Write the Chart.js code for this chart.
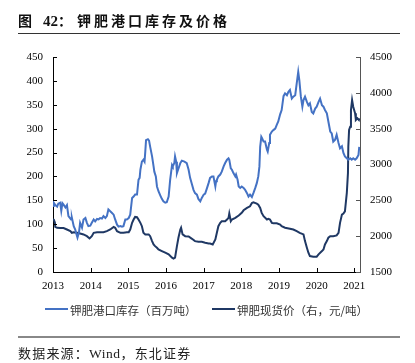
<!DOCTYPE html>
<html><head><meta charset="utf-8">
<script src="https://cdn.jsdelivr.net/npm/chart.js@4.4.0/dist/chart.umd.min.js"></script>
<style>
html,body{margin:0;padding:0;background:#fff;}
#wrap{position:relative;width:415px;height:363px;overflow:hidden;background:#fff;}
canvas{position:absolute;left:0;top:0;}
.t{position:absolute;white-space:nowrap;}
</style></head><body>
<div id="wrap">
<canvas id="c" width="415" height="363"></canvas>
<div class="t" style="left:18px;top:10px;line-height:20px;font:bold 14px 'Noto Sans CJK SC';color:#111;">图</div>
<div class="t" style="left:43px;top:10px;line-height:20px;font:bold 14px 'Noto Sans CJK SC';color:#111;"><span style="font:bold 15px 'Liberation Serif'">42</span>：</div>
<div class="t" style="left:77px;top:10px;line-height:20px;font:bold 14px 'Noto Sans CJK SC';letter-spacing:3px;color:#111;">钾肥港口库存及价格</div>
<div style="position:absolute;left:18px;top:32.5px;width:382px;height:1.5px;background:#333"></div>
<div style="position:absolute;left:45px;top:308px;width:23px;height:2px;background:#4472C4"></div>
<div class="t" style="left:70px;top:302px;line-height:14px;font:11.5px 'Noto Sans CJK SC';color:#333;">钾肥港口库存（百万吨）</div>
<div style="position:absolute;left:212px;top:308px;width:23px;height:2px;background:#1F3864"></div>
<div class="t" style="left:237px;top:302px;line-height:14px;font:11.5px 'Noto Sans CJK SC';color:#333;">钾肥现货价（右，元/吨）</div>
<div style="position:absolute;left:18px;top:336px;width:382px;height:1.5px;background:#888"></div>
<div class="t" style="left:18px;top:343px;line-height:17px;font:13px 'Noto Sans CJK SC';letter-spacing:1.2px;color:#222;">数据来源：<span style="font:13.5px 'Liberation Serif';letter-spacing:0.5px">Wind</span>，东北证券</div>
</div>
<script>
const xTickYears = [2013,2014,2015,2016,2017,2018,2019,2020,2021];
const leftTicks = [0,50,100,150,200,250,300,350,400,450];
const rightTicks = [1500,2000,2500,3000,3500,4000,4500];

const stockYears = [2013.00,2013.02,2013.06,2013.11,2013.14,2013.19,2013.22,2013.25,2013.28,2013.33,2013.37,2013.41,2013.48,2013.50,2013.55,2013.59,2013.62,2013.65,2013.69,2013.72,2013.77,2013.81,2013.86,2013.90,2013.94,2013.99,2014.03,2014.08,2014.12,2014.17,2014.21,2014.25,2014.30,2014.34,2014.39,2014.43,2014.47,2014.52,2014.56,2014.61,2014.65,2014.70,2014.74,2014.79,2014.83,2014.87,2014.92,2014.96,2015.01,2015.05,2015.10,2015.14,2015.18,2015.23,2015.27,2015.30,2015.32,2015.36,2015.40,2015.43,2015.45,2015.47,2015.52,2015.55,2015.58,2015.63,2015.67,2015.69,2015.73,2015.76,2015.80,2015.85,2015.89,2015.93,2015.98,2016.02,2016.07,2016.11,2016.16,2016.18,2016.22,2016.24,2016.27,2016.29,2016.32,2016.38,2016.42,2016.49,2016.55,2016.60,2016.64,2016.69,2016.73,2016.77,2016.82,2016.86,2016.91,2016.95,2017.00,2017.04,2017.09,2017.13,2017.17,2017.22,2017.26,2017.31,2017.33,2017.35,2017.39,2017.44,2017.48,2017.53,2017.57,2017.62,2017.66,2017.68,2017.72,2017.75,2017.79,2017.84,2017.86,2017.90,2017.93,2017.97,2018.01,2018.06,2018.10,2018.15,2018.19,2018.23,2018.28,2018.32,2018.37,2018.41,2018.45,2018.48,2018.50,2018.53,2018.55,2018.59,2018.63,2018.68,2018.70,2018.74,2018.76,2018.81,2018.85,2018.90,2018.94,2018.98,2019.03,2019.07,2019.12,2019.16,2019.21,2019.25,2019.29,2019.34,2019.38,2019.43,2019.47,2019.51,2019.54,2019.58,2019.62,2019.65,2019.69,2019.74,2019.78,2019.82,2019.87,2019.91,2019.96,2020.00,2020.05,2020.09,2020.14,2020.18,2020.22,2020.27,2020.31,2020.36,2020.40,2020.44,2020.49,2020.53,2020.58,2020.62,2020.67,2020.71,2020.75,2020.80,2020.84,2020.89,2020.93,2020.97,2021.02,2021.06,2021.11,2021.13];
const stockValues = [138,145,140,137,143,145,128,144,141,135,140,117,110,114,96,89,80,72,83,103,93,110,113,103,96,97,103,110,106,111,110,113,112,117,113,117,131,127,124,120,110,99,95,96,95,96,110,110,113,120,155,158,162,162,193,197,214,231,235,231,252,276,278,275,262,242,221,210,200,179,169,160,153,148,145,146,158,193,224,221,228,242,231,207,214,228,233,231,228,214,197,183,172,165,162,153,148,155,162,164,176,186,197,200,200,179,190,193,200,204,210,221,228,235,238,235,217,214,207,200,204,193,179,176,179,176,172,165,158,162,157,165,176,186,200,221,262,283,280,273,273,256,252,270,287,294,297,300,308,315,330,339,368,374,370,377,381,363,367,370,395,419,401,367,346,360,367,356,349,353,335,332,342,346,356,363,349,346,339,332,315,294,290,273,277,287,270,259,263,249,242,238,235,238,235,238,235,238,245,262];

const priceYears = [2013.00,2013.02,2013.05,2013.06,2013.11,2013.19,2013.28,2013.37,2013.46,2013.50,2013.55,2013.64,2013.72,2013.81,2013.90,2013.97,2014.03,2014.08,2014.17,2014.25,2014.34,2014.43,2014.52,2014.61,2014.65,2014.70,2014.79,2014.87,2014.96,2015.01,2015.05,2015.10,2015.14,2015.18,2015.23,2015.27,2015.32,2015.36,2015.40,2015.45,2015.54,2015.58,2015.63,2015.67,2015.71,2015.76,2015.80,2015.89,2015.98,2016.07,2016.16,2016.20,2016.24,2016.29,2016.33,2016.38,2016.40,2016.44,2016.51,2016.60,2016.69,2016.77,2016.86,2016.95,2017.04,2017.13,2017.17,2017.24,2017.31,2017.35,2017.39,2017.44,2017.48,2017.57,2017.62,2017.66,2017.68,2017.72,2017.75,2017.84,2017.93,2018.01,2018.06,2018.15,2018.23,2018.28,2018.32,2018.41,2018.45,2018.50,2018.54,2018.59,2018.68,2018.72,2018.76,2018.81,2018.85,2018.94,2019.03,2019.07,2019.16,2019.29,2019.38,2019.47,2019.55,2019.65,2019.69,2019.74,2019.78,2019.82,2019.91,2020.00,2020.05,2020.14,2020.18,2020.22,2020.27,2020.31,2020.36,2020.44,2020.53,2020.58,2020.62,2020.67,2020.71,2020.75,2020.80,2020.83,2020.84,2020.86,2020.89,2020.91,2020.94,2020.97,2021.02,2021.04,2021.08,2021.12,2021.13];
const priceValues = [2240,2230,2190,2130,2117,2113,2113,2093,2070,2047,2055,2047,2038,2024,2000,1968,2000,2047,2055,2055,2055,2070,2093,2130,2117,2070,2047,2047,2055,2055,2093,2186,2232,2269,2265,2232,2186,2139,2047,2024,2024,2000,1931,1885,1861,1838,1815,1792,1769,1746,1700,1686,1700,1861,1978,2093,2117,2024,2000,1995,1963,1931,1922,1922,1908,1898,1898,1885,1954,2047,2139,2186,2208,2208,2232,2255,2315,2208,2232,2255,2288,2325,2361,2394,2417,2463,2472,2454,2440,2394,2325,2278,2232,2241,2232,2186,2180,2180,2162,2139,2117,2103,2093,2070,2047,2024,1931,1838,1769,1722,1714,1714,1746,1792,1815,1885,1931,1978,2000,2000,2010,2047,2186,2301,2315,2347,2603,2880,3250,3482,3528,3760,3899,3806,3714,3621,3644,3621,3644];

const innerTicks = {
  id: 'innerTicks',
  afterDraw(chart) {
    const {ctx, chartArea: a, scales} = chart;
    ctx.save();
    ctx.lineWidth = 1;
    ctx.strokeStyle = '#000';
    ctx.beginPath();
    scales.x.ticks.forEach(t => {
      const px = Math.round(scales.x.getPixelForValue(t.value)) + 0.5;
      ctx.moveTo(px, a.bottom); ctx.lineTo(px, a.bottom - 4);
    });
    scales.y.ticks.forEach(t => {
      const py = Math.round(scales.y.getPixelForValue(t.value)) + 0.5;
      ctx.moveTo(a.left, py); ctx.lineTo(a.left + 4, py);
    });
    ctx.stroke();
    ctx.strokeStyle = '#555';
    ctx.beginPath();
    scales.y1.ticks.forEach(t => {
      const py = Math.round(scales.y1.getPixelForValue(t.value)) + 0.5;
      ctx.moveTo(a.right, py); ctx.lineTo(a.right - 4, py);
    });
    ctx.stroke();
    ctx.restore();
  }
};

const tickFont = {family: "'Liberation Serif', 'Times New Roman', serif", size: 11};

new Chart(document.getElementById('c'), {
  type: 'line',
  data: {
    datasets: [
      {label: '钾肥港口库存（百万吨）', data: stockYears.map((x, i) => ({x, y: stockValues[i]})),
       borderColor: '#4472C4', backgroundColor: '#4472C4', borderWidth: 2, pointRadius: 0, tension: 0, yAxisID: 'y'},
      {label: '钾肥现货价（右，元/吨）', data: priceYears.map((x, i) => ({x, y: priceValues[i]})),
       borderColor: '#1F3864', backgroundColor: '#1F3864', borderWidth: 2, pointRadius: 0, tension: 0, yAxisID: 'y1'}
    ]
  },
  options: {
    responsive: false, animation: false, devicePixelRatio: 1,
    layout: {padding: {top: 57, bottom: 71, left: 0, right: 0}},
    plugins: {legend: {display: false}, tooltip: {enabled: false}},
    scales: {
      x: {type: 'linear', min: 2013, max: 2021.15,
          afterBuildTicks: s => { s.ticks = xTickYears.map(v => ({value: v})); },
          afterFit: s => { s.height = 20; },
          grid: {display: false, drawTicks: false},
          border: {display: true, color: '#000', width: 1},
          ticks: {padding: 8, font: tickFont, color: '#000', autoSkip: false, maxRotation: 0, callback: v => String(v)}},
      y: {position: 'left', min: 0, max: 450,
          afterBuildTicks: s => { s.ticks = leftTicks.map(v => ({value: v})); },
          afterFit: s => { s.width = 53; },
          grid: {display: false, drawTicks: false},
          border: {display: true, color: '#000', width: 1},
          ticks: {padding: 10, font: tickFont, color: '#000', callback: v => String(v)}},
      y1: {position: 'right', min: 1500, max: 4500,
          afterBuildTicks: s => { s.ticks = rightTicks.map(v => ({value: v})); },
          afterFit: s => { s.width = 55; },
          grid: {display: false, drawTicks: false},
          border: {display: true, color: '#555', width: 1},
          ticks: {padding: 10, font: tickFont, color: '#000', callback: v => String(v)}}
    }
  },
  plugins: [innerTicks]
});
</script>
</body></html>
